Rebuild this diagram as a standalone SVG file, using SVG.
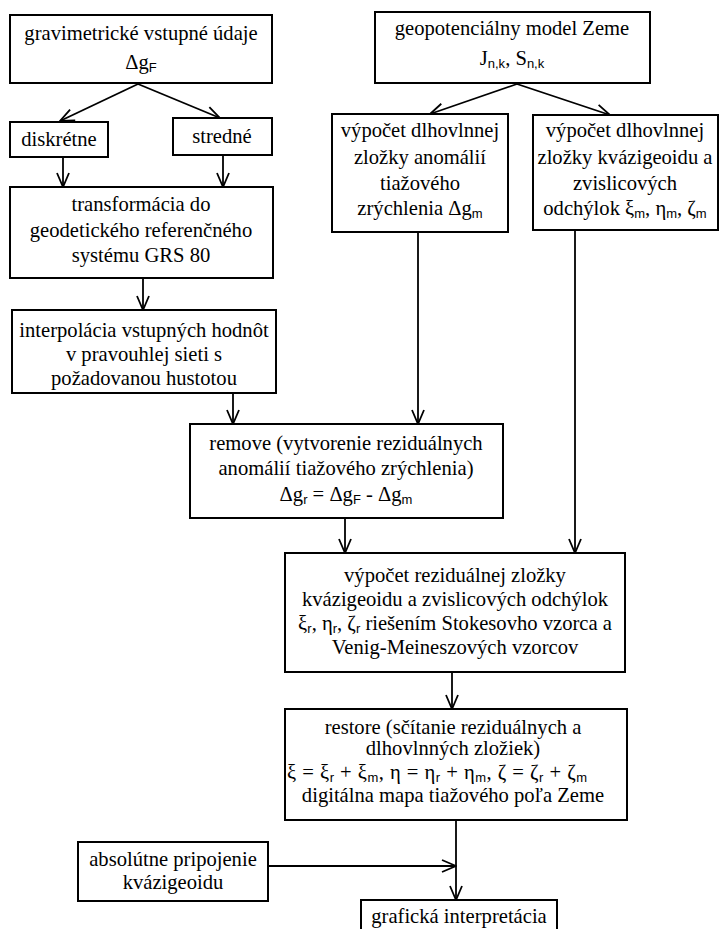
<svg xmlns="http://www.w3.org/2000/svg" width="720" height="929" viewBox="0 0 720 929">
<style>
.b{fill:#fff;stroke:#000;stroke-width:2}
.t{font-family:"Liberation Serif","Times New Roman",serif;font-size:20.6px;fill:#000;text-anchor:middle}
.s{font-family:"Liberation Sans",Arial,sans-serif;font-size:13px}
.c{fill:none;stroke:#000;stroke-width:1.8}
</style>
<defs>
<marker id="ah" markerUnits="userSpaceOnUse" markerWidth="16" markerHeight="14" viewBox="0 0 16 14" refX="15" refY="7" orient="auto">
<path d="M1,1 L15,7 L1,13" fill="none" stroke="#000" stroke-width="1.8"/>
</marker>
</defs>
<rect width="720" height="929" fill="#fff"/>
<g id="connectors">
<line class="c" x1="138" y1="84" x2="60" y2="121" marker-end="url(#ah)"/>
<line class="c" x1="138" y1="84" x2="220" y2="118" marker-end="url(#ah)"/>
<line class="c" x1="63" y1="157" x2="63" y2="187" marker-end="url(#ah)"/>
<line class="c" x1="223" y1="155" x2="223" y2="187" marker-end="url(#ah)"/>
<line class="c" x1="143" y1="278" x2="143" y2="310" marker-end="url(#ah)"/>
<line class="c" x1="233" y1="393" x2="233" y2="424" marker-end="url(#ah)"/>
<line class="c" x1="517" y1="84" x2="430" y2="114" marker-end="url(#ah)"/>
<line class="c" x1="517" y1="84" x2="610" y2="115" marker-end="url(#ah)"/>
<line class="c" x1="418" y1="232" x2="418" y2="424" marker-end="url(#ah)"/>
<line class="c" x1="575" y1="230" x2="575" y2="553" marker-end="url(#ah)"/>
<line class="c" x1="345" y1="518" x2="345" y2="553" marker-end="url(#ah)"/>
<line class="c" x1="452" y1="672" x2="452" y2="709" marker-end="url(#ah)"/>
<line class="c" x1="268" y1="866" x2="456" y2="866" marker-end="url(#ah)"/>
<line class="c" x1="456" y1="820" x2="456" y2="900" marker-end="url(#ah)"/>
</g>
<g id="n1">
<rect class="b" x="10" y="15" width="262" height="68"/>
<text class="t" x="141" y="40">gravimetrické vstupné údaje</text>
<text class="t" x="141" y="69">Δg<tspan class="s" dy="3">F</tspan></text>
</g>
<g id="n2">
<rect class="b" x="10" y="122" width="98" height="35"/>
<text class="t" x="59" y="146">diskrétne</text>
</g>
<g id="n3">
<rect class="b" x="173" y="118" width="99" height="37"/>
<text class="t" x="222" y="143">stredné</text>
</g>
<g id="n4">
<rect class="b" x="10" y="187" width="263" height="91"/>
<text class="t" x="141" y="211">transformácia do</text>
<text class="t" x="141" y="237">geodetického referenčného</text>
<text class="t" x="141" y="262">systému GRS 80</text>
</g>
<g id="n5">
<rect class="b" x="12" y="310" width="264" height="83"/>
<text class="t" x="144" y="337">interpolácia vstupných hodnôt</text>
<text class="t" x="144" y="361">v pravouhlej sieti s</text>
<text class="t" x="144" y="385">požadovanou hustotou</text>
</g>
<g id="n6">
<rect class="b" x="375" y="12" width="275" height="71"/>
<text class="t" x="512" y="35">geopotenciálny model Zeme</text>
<text class="t" x="512" y="65">J<tspan class="s" dy="3">n,k</tspan><tspan dy="-3">, S</tspan><tspan class="s" dy="3">n,k</tspan></text>
</g>
<g id="n7">
<rect class="b" x="332" y="114" width="176" height="118"/>
<text class="t" x="420" y="137">výpočet dlhovlnnej</text>
<text class="t" x="420" y="164">zložky anomálií</text>
<text class="t" x="420" y="190">tiažového</text>
<text class="t" x="420" y="215">zrýchlenia Δg<tspan class="s" dy="3">m</tspan></text>
</g>
<g id="n8">
<rect class="b" x="533" y="115" width="185" height="115"/>
<text class="t" x="625" y="137">výpočet dlhovlnnej</text>
<text class="t" x="625" y="164">zložky kvázigeoidu a</text>
<text class="t" x="625" y="190">zvislicových</text>
<text class="t" x="625" y="215">odchýlok ξ<tspan class="s" dy="3">m</tspan><tspan dy="-3">, η</tspan><tspan class="s" dy="3">m</tspan><tspan dy="-3">, ζ</tspan><tspan class="s" dy="3">m</tspan></text>
</g>
<g id="n9">
<rect class="b" x="190" y="424" width="313" height="94"/>
<text class="t" x="346" y="450">remove (vytvorenie reziduálnych</text>
<text class="t" x="346" y="475">anomálií tiažového zrýchlenia)</text>
<text class="t" x="346" y="501">Δg<tspan class="s" dy="3">r</tspan><tspan dy="-3"> = Δg</tspan><tspan class="s" dy="3">F</tspan><tspan dy="-3"> - Δg</tspan><tspan class="s" dy="3">m</tspan></text>
</g>
<g id="n10">
<rect class="b" x="285" y="553" width="340" height="119"/>
<text class="t" x="455" y="582">výpočet reziduálnej zložky</text>
<text class="t" x="455" y="606">kvázigeoidu a zvislicových odchýlok</text>
<text class="t" x="455" y="630">ξ<tspan class="s" dy="3">r</tspan><tspan dy="-3">, η</tspan><tspan class="s" dy="3">r</tspan><tspan dy="-3">, ζ</tspan><tspan class="s" dy="3">r</tspan><tspan dy="-3"> riešením Stokesovho vzorca a</tspan></text>
<text class="t" x="455" y="654">Venig-Meineszových vzorcov</text>
</g>
<g id="n11">
<rect class="b" x="285" y="709" width="342" height="111"/>
<text class="t" x="453" y="734">restore (sčítanie reziduálnych a</text>
<text class="t" x="453" y="755">dlhovlnných zložiek)</text>
<text class="t" x="287" y="779" style="text-anchor:start" textLength="300" lengthAdjust="spacing">ξ = ξ<tspan class="s" dy="3">r</tspan><tspan dy="-3"> + ξ</tspan><tspan class="s" dy="3">m</tspan><tspan dy="-3">, η = η</tspan><tspan class="s" dy="3">r</tspan><tspan dy="-3"> + η</tspan><tspan class="s" dy="3">m</tspan><tspan dy="-3">, ζ = ζ</tspan><tspan class="s" dy="3">r</tspan><tspan dy="-3"> + ζ</tspan><tspan class="s" dy="3">m</tspan></text>
<text class="t" x="453" y="802">digitálna mapa tiažového poľa Zeme</text>
</g>
<g id="n12">
<rect class="b" x="78" y="842" width="190" height="59"/>
<text class="t" x="173" y="866">absolútne pripojenie</text>
<text class="t" x="173" y="889">kvázigeoidu</text>
</g>
<g id="n13">
<rect class="b" x="361" y="900" width="196" height="40"/>
<text class="t" x="459" y="923">grafická interpretácia</text>
</g>
</svg>
